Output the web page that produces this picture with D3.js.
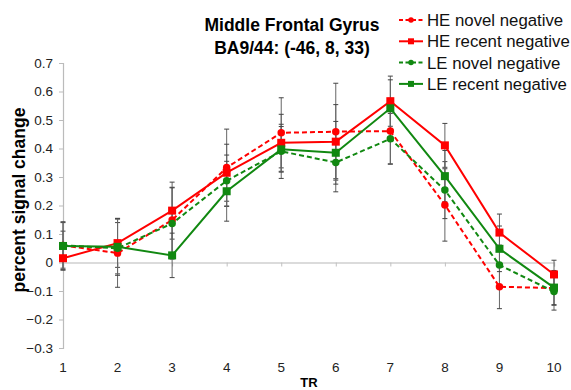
<!DOCTYPE html>
<html>
<head>
<meta charset="utf-8">
<script src="https://cdn.jsdelivr.net/npm/d3@7"></script>
<style>
body { margin: 0; background: #fff; }
text { font-family: "Liberation Sans", Arial, sans-serif; }
</style>
</head>
<body>
<script>
var width = 571;
var height = 390;

var trs = [1, 2, 3, 4, 5, 6, 7, 8, 9, 10];
var yTicks = [-0.3, -0.2, -0.1, 0, 0.1, 0.2, 0.3, 0.4, 0.5, 0.6, 0.7];

var heNovel = [0.060, 0.033, 0.149, 0.333, 0.455, 0.459, 0.461, 0.202, -0.085, -0.090];
var heRecent = [0.015, 0.068, 0.182, 0.315, 0.420, 0.424, 0.566, 0.411, 0.105, -0.042];
var leNovel = [0.060, 0.050, 0.137, 0.287, 0.390, 0.351, 0.434, 0.254, -0.009, -0.102];
var leRecent = [0.058, 0.055, 0.025, 0.250, 0.397, 0.385, 0.541, 0.303, 0.048, -0.088];

var heNovelErr = [0.080, 0.120, 0.115, 0.135, 0.123, 0.170, 0.115, 0.127, 0.077, 0.060];
var heRecentErr = [0.040, 0.085, 0.100, 0.100, 0.100, 0.130, 0.088, 0.077, 0.065, 0.050];
var leNovelErr = [0.050, 0.090, 0.125, 0.090, 0.095, 0.103, 0.089, 0.100, 0.070, 0.065];
var leRecentErr = [0.085, 0.100, 0.078, 0.105, 0.080, 0.110, 0.100, 0.090, 0.080, 0.060];

var series = [
    {name: "HE novel negative", values: heNovel, err: heNovelErr, color: "#ff0000", dash: "5,3", shape: "circle"},
    {name: "HE recent negative", values: heRecent, err: heRecentErr, color: "#ff0000", dash: null, shape: "square"},
    {name: "LE novel negative", values: leNovel, err: leNovelErr, color: "#118811", dash: "5,3", shape: "circle"},
    {name: "LE recent negative", values: leRecent, err: leRecentErr, color: "#118811", dash: null, shape: "square"}
];

var x = d3.scaleLinear().domain([1, 10]).range([63, 554]);
var y = d3.scaleLinear().domain([-0.3, 0.7]).range([348, 63]);

var svg = d3.select("body").append("svg")
    .attr("width", width)
    .attr("height", height);

// y axis
var yAxis = svg.append("g")
    .attr("transform", "translate(63,0)")
    .call(d3.axisLeft(y).tickValues(yTicks).tickSize(4).tickFormat(function (d) {
        return d === 0 ? "0" : d3.format(".1f")(d);
    }));
yAxis.select(".domain").attr("stroke", "#bbbbbb").attr("stroke-width", 1.2);
yAxis.selectAll(".tick line").attr("stroke", "#bbbbbb");
yAxis.selectAll(".tick text")
    .attr("x", -10)
    .style("font-size", "13.5px")
    .attr("fill", "#222");

// x axis along zero
var xAxis = svg.append("g")
    .attr("transform", "translate(0," + y(0) + ")")
    .call(d3.axisBottom(x).tickValues(trs).tickSize(4).tickFormat(""));
xAxis.select(".domain").attr("stroke", "#d0d0d0").attr("stroke-width", 1.5);
xAxis.selectAll(".tick line").attr("stroke", "#c0c0c0");

svg.append("g").selectAll("text")
    .data(trs)
    .enter().append("text")
    .attr("x", function (d) { return x(d); })
    .attr("y", 372)
    .attr("text-anchor", "middle")
    .style("font-size", "13.5px")
    .attr("fill", "#222")
    .text(function (d) { return d; });

svg.append("text")
    .attr("x", 309)
    .attr("y", 387)
    .attr("text-anchor", "middle")
    .style("font-size", "13px")
    .style("font-weight", "bold")
    .text("TR");

svg.append("text")
    .attr("transform", "translate(25,200) rotate(-90)")
    .attr("text-anchor", "middle")
    .style("font-size", "17.5px")
    .style("font-weight", "bold")
    .text("percent signal change");

// title
svg.append("text")
    .attr("x", 292)
    .attr("y", 31)
    .attr("text-anchor", "middle")
    .style("font-size", "17.5px")
    .style("font-weight", "bold")
    .text("Middle Frontal Gyrus");
svg.append("text")
    .attr("x", 292)
    .attr("y", 54)
    .attr("text-anchor", "middle")
    .style("font-size", "17.5px")
    .style("font-weight", "bold")
    .text("BA9/44: (-46, 8, 33)");

// error bars
var errG = svg.append("g");
series.forEach(function (s) {
    s.values.forEach(function (v, i) {
        var cx = x(trs[i]);
        var lo = y(v - s.err[i]);
        var hi = y(v + s.err[i]);
        errG.append("line")
            .attr("x1", cx).attr("x2", cx).attr("y1", lo).attr("y2", hi)
            .attr("stroke", "#666").attr("stroke-width", 1);
        [lo, hi].forEach(function (yy) {
            errG.append("line")
                .attr("x1", cx - 2.5).attr("x2", cx + 2.5).attr("y1", yy).attr("y2", yy)
                .attr("stroke", "#444").attr("stroke-width", 1);
        });
    });
});

var line = d3.line()
    .x(function (d, i) { return x(trs[i]); })
    .y(function (d) { return y(d); });

function drawMarker(g, shape, cx, cy, color, size) {
    if (shape === "square") {
        g.append("rect")
            .attr("x", cx - size / 2).attr("y", cy - size / 2)
            .attr("width", size).attr("height", size)
            .attr("fill", color);
    } else {
        g.append("circle")
            .attr("cx", cx).attr("cy", cy).attr("r", size / 2)
            .attr("fill", color);
    }
}

series.forEach(function (s) {
    var g = svg.append("g");
    g.append("path")
        .datum(s.values)
        .attr("d", line)
        .attr("fill", "none")
        .attr("stroke", s.color)
        .attr("stroke-width", 2)
        .attr("stroke-dasharray", s.dash);
    s.values.forEach(function (v, i) {
        drawMarker(g, s.shape, x(trs[i]), y(v), s.color, s.shape === "square" ? 8 : 7.5);
    });
});

// legend
var legend = svg.append("g");
series.forEach(function (s, i) {
    var ly = 20 + i * 21.3;
    legend.append("line")
        .attr("x1", 399).attr("x2", 423).attr("y1", ly).attr("y2", ly)
        .attr("stroke", s.color)
        .attr("stroke-width", 2)
        .attr("stroke-dasharray", s.dash ? "4,2.5" : null);
    drawMarker(legend, s.shape, 411, ly, s.color, s.shape === "square" ? 6 : 5.5);
    legend.append("text")
        .attr("x", 427)
        .attr("y", ly + 6)
        .style("font-size", "16.8px")
        .attr("fill", "#111")
        .text(s.name);
});
</script>
</body>
</html>
